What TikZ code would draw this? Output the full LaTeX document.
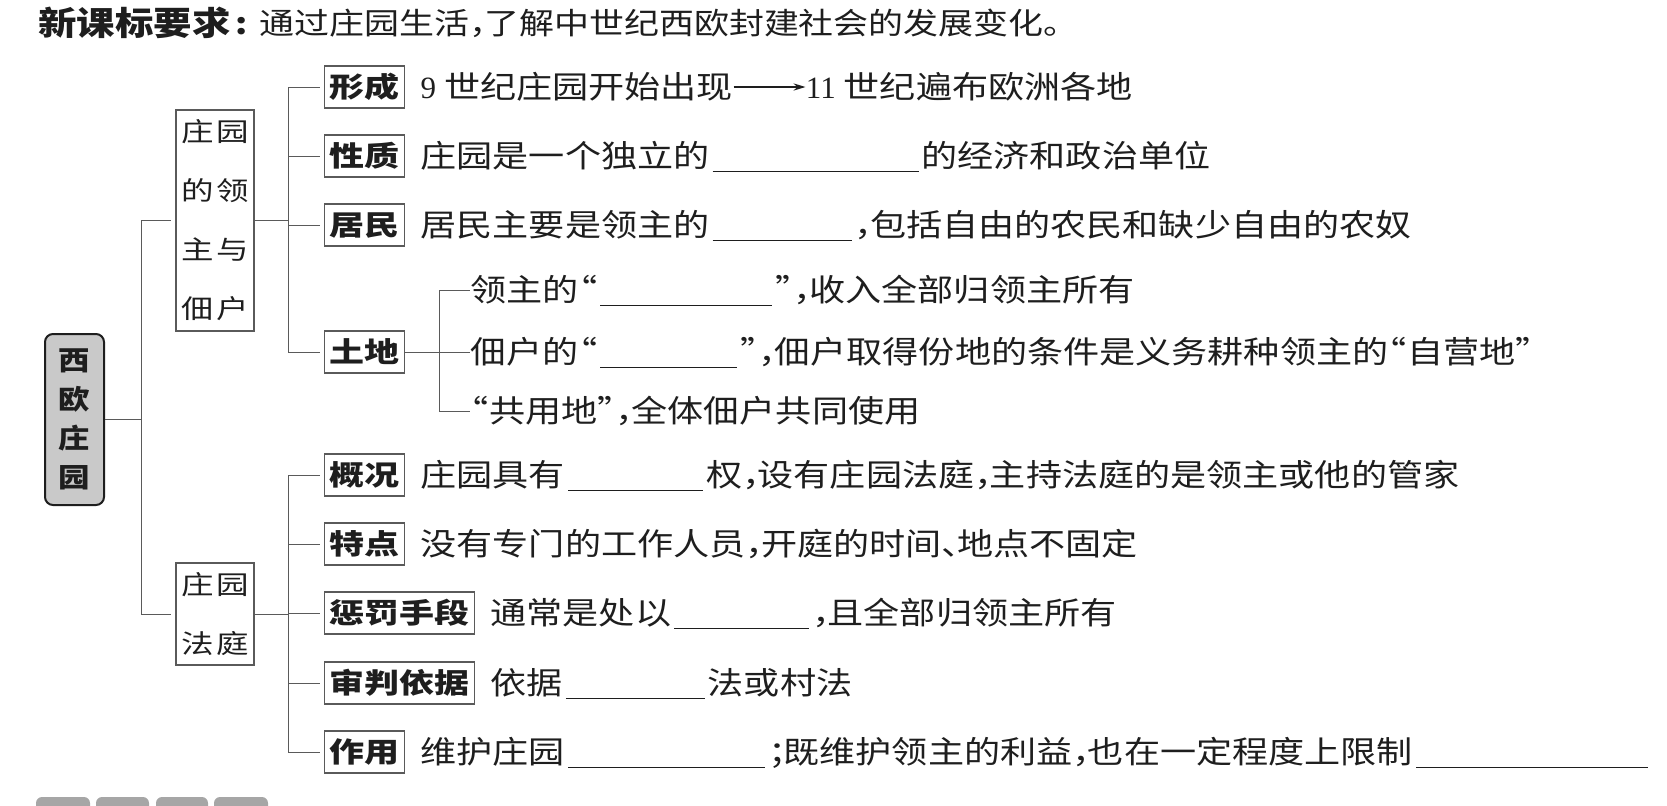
\documentclass[tikz,border=0pt]{standalone}
\usepackage{fontspec}
\setmainfont[FakeStretch=1.165]{Noto Sans CJK SC}
\newfontfamily\boxfont[FakeStretch=1.25]{Noto Sans CJK SC}
\newfontfamily\numfont{Liberation Serif}
\usetikzlibrary{arrows.meta, positioning}
\definecolor{MNink}{HTML}{1E1E1E}
\definecolor{MNline}{HTML}{5A5A5A}
\definecolor{MNrootfill}{HTML}{C9C9C9}
\definecolor{MNtab}{HTML}{A6A6A6}
\newcommand{\blank}[1]{\hspace{1.5pt}\rule[-2.5pt]{#1}{0.5pt}\hspace{1.5pt}}
\newcommand{\cma}{\makebox[0.5em][l]{，}}
\newcommand{\smc}{\makebox[0.5em][l]{；}}
\newcommand{\dun}{\makebox[0.5em][l]{、}}
\newcommand{\qo}{\makebox[0.6em][r]{“}}
\newcommand{\qc}{\makebox[0.6em][l]{”}}
\tikzset{
  mnhead/.style={inner sep=0pt, anchor=west, font=\bfseries\fontsize{16.5}{17}\selectfont},
  mnreq/.style={inner sep=0pt, font=\fontsize{15}{15}\selectfont},
  mnroot/.style={draw=MNink, line width=1pt, fill=MNrootfill, rounded corners=4pt,
    align=center, inner sep=0pt, minimum width=29.5pt, minimum height=85.5pt,
    font=\bfseries\fontsize{13.5}{19.5}\selectfont},
  mncat/.style={draw=MNline, line width=0.6pt, align=center, inner sep=0pt,
    minimum width=39pt, font=\boxfont\fontsize{13}{29.5}\selectfont},
  mnlbl/.style={draw=MNline, line width=0.6pt, anchor=west, inner xsep=2.5pt, inner ysep=0pt,
    minimum height=21pt, text height=12pt, text depth=1.7pt,
    font=\boxfont\bfseries\fontsize{14}{14}\selectfont},
  mntxt/.style={inner sep=0pt, anchor=west, text height=13.3pt, text depth=1.9pt,
    font=\fontsize{15.5}{15.5}\selectfont},
  mnconn/.style={draw=MNline, line width=0.5pt},
  mnarr/.style={-{Stealth[length=6pt,width=3.6pt]}, line width=0.7pt, draw=MNink},
}
\begin{document}
\begin{tikzpicture}[x=0.5pt, y=-0.5pt, text=MNink]
  \useasboundingbox (0,0) rectangle (1667,805);
  % heading
  \node[mnhead] (req) at (38,23) {新课标要求};
  \node[mnreq, right=0pt of req] (reqtxt) {\hspace{2pt}\textbf{:}\hspace{6pt}通过庄园生活\cma 了解中世纪西欧封建社会的发展变化。};

  % root and two branches
  \node[mnroot] (rt) at (74.5,419.5) {西\\欧\\庄\\园};
  \node[mncat, minimum height=110.5pt] (lord) at (215,220.5)
    {庄\hspace{1.5pt}园\\的\hspace{1.5pt}领\\主\hspace{1.5pt}与\\佃\hspace{1.5pt}户};
  \node[mncat, minimum height=51pt] (court) at (215,614) {庄\hspace{1.5pt}园\\法\hspace{1.5pt}庭};

  % labels
  \node[mnlbl] (xingcheng) at (324,87) {形成};
  \node[mnlbl] (xingzhi) at (324,156) {性质};
  \node[mnlbl] (jumin) at (324,225) {居民};
  \node[mnlbl] (tudi) at (324,352) {土地};
  \node[mnlbl] (gaikuang) at (324,475) {概况};
  \node[mnlbl] (tedian) at (324,544) {特点};
  \node[mnlbl] (chengfa) at (324,613) {惩罚手段};
  \node[mnlbl] (shenpan) at (324,683) {审判依据};
  \node[mnlbl] (zuoyong) at (324,752) {作用};

  % texts
  \node[mntxt, right=7.5pt of xingcheng] (xcA) {{\numfont 9} 世纪庄园开始出现};
  \node[mntxt, right=36pt of xcA] (xcB) {{\numfont 11} 世纪遍布欧洲各地};
  \draw[mnarr] (xcA) -- (xcB);
  \node[mntxt, right=7.5pt of xingzhi] (xzT) {庄园是一个独立的\blank{103pt}的经济和政治单位};
  \node[mntxt, right=7.5pt of jumin] (jmT) {居民主要是领主的\blank{69.5pt}\cma 包括自由的农民和缺少自由的农奴};
  \node[mntxt] (tdA) at (470,290) {领主的\qo\blank{86pt}\qc\cma 收入全部归领主所有};
  \node[mntxt] (tdB) at (470,352) {佃户的\qo\blank{68.5pt}\qc\cma 佃户取得份地的条件是义务耕种领主的\qo 自营地\qc};
  \node[mntxt] (tdC) at (470,411) {\qo 共用地\qc\cma 全体佃户共同使用};
  \node[mntxt, right=7.5pt of gaikuang] (gkT) {庄园具有\blank{67.5pt}权\cma 设有庄园法庭\cma 主持法庭的是领主或他的管家};
  \node[mntxt, right=7.5pt of tedian] (tdnT) {没有专门的工作人员\cma 开庭的时间\dun 地点不固定};
  \node[mntxt, right=7.5pt of chengfa] (cfT) {通常是处以\blank{67.5pt}\cma 且全部归领主所有};
  \node[mntxt, right=7.5pt of shenpan] (spT) {依据\blank{69.5pt}法或村法};
  \node[mntxt, right=7.5pt of zuoyong] (zyT) {维护庄园\blank{98.5pt}\smc 既维护领主的利益\cma 也在一定程度上限制\blank{116pt}};

  % connectors
  \draw[mnconn] (rt.east) -- ++(36,0) coordinate (j1);
  \draw[mnconn, shorten >=2pt] (j1) |- (lord);
  \draw[mnconn, shorten >=2pt] (j1) |- (court);
  \draw[mnconn] (lord.east) -- ++(34,0) coordinate (j2);
  \foreach \n in {xingcheng,xingzhi,jumin,tudi}
    \draw[mnconn, shorten >=2pt] (j2) |- (\n);
  \draw[mnconn] (court.east) -- ++(34,0) coordinate (j3);
  \foreach \n in {gaikuang,tedian,chengfa,shenpan,zuoyong}
    \draw[mnconn, shorten >=2pt] (j3) |- (\n);
  \draw[mnconn] (tudi.east) -- ++(34,0) coordinate (j4);
  \foreach \n in {tdA,tdB,tdC}
    \draw[mnconn] (j4) |- (\n.west);

  % page tabs
  \begin{scope}
    \clip (0,0) rectangle (1667,805);
    \foreach \a/\b in {36/90,96/149,156/208,214/268}
      \fill[MNtab, rounded corners=3pt] (\a,797) rectangle (\b,815);
  \end{scope}
\end{tikzpicture}
\end{document}
